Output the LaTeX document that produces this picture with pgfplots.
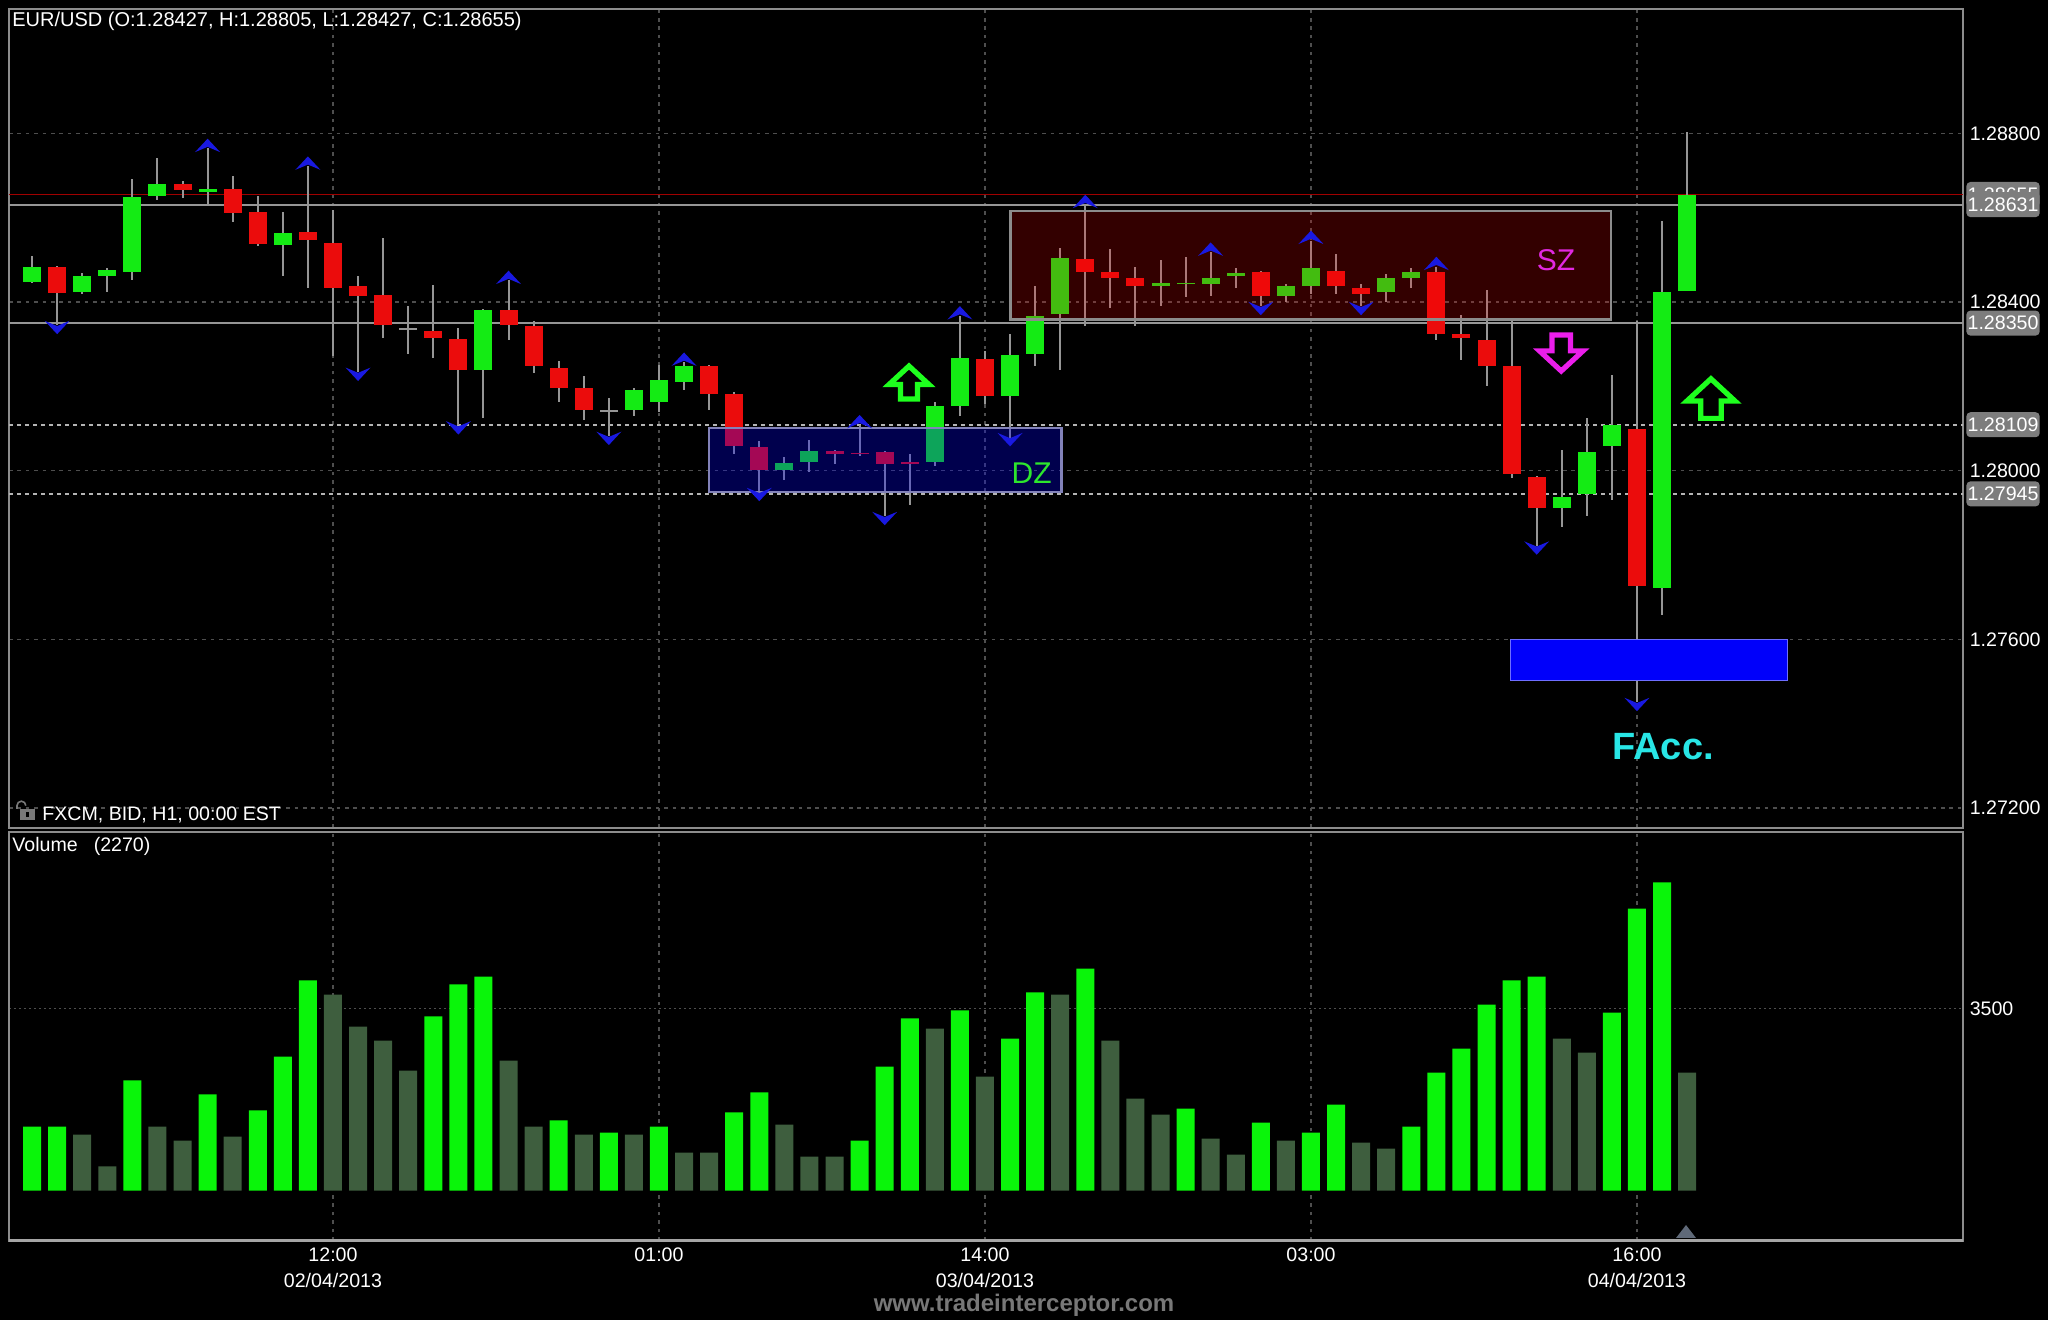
\documentclass[border=0pt]{standalone}
\usepackage{fontspec}
\setmainfont{Liberation Sans}
\usepackage{pgfplots}
\usepackage{pgfplotstable}
\pgfplotsset{compat=1.18}

\definecolor{bullc}{RGB}{20,235,20}
\definecolor{bearc}{RGB}{235,12,12}
\definecolor{wickc}{RGB}{150,150,150}
\definecolor{chevc}{RGB}{25,25,225}
\definecolor{gridc}{RGB}{78,78,78}
\definecolor{framec}{RGB}{140,140,140}
\definecolor{redline}{RGB}{160,0,0}
\definecolor{grayline}{RGB}{150,150,150}
\definecolor{dashline}{RGB}{180,180,180}
\definecolor{lblgray}{RGB}{125,125,125}
\definecolor{volg}{RGB}{10,245,10}
\definecolor{volgray}{RGB}{62,94,62}
\definecolor{arrg}{RGB}{30,255,30}
\definecolor{arrm}{RGB}{235,30,235}
\definecolor{szc}{RGB}{225,40,225}
\definecolor{dzc}{RGB}{45,230,45}
\definecolor{faccc}{RGB}{40,230,230}
\definecolor{facbox}{RGB}{0,0,250}

\newcommand\fs{\fontsize{9.8}{13}\selectfont}
\newcommand\arrowpath{(0pt,8.25pt) -- (10pt,-1pt) -- (4.25pt,-1pt) -- (4.25pt,-8.25pt) -- (-4.25pt,-8.25pt) -- (-4.25pt,-1pt) -- (-10pt,-1pt) -- cycle}

\pgfdeclareplotmark{fup}{%
  \pgfpathmoveto{\pgfqpoint{-6.25pt}{-2pt}}%
  \pgfpathlineto{\pgfqpoint{0pt}{4.7pt}}%
  \pgfpathlineto{\pgfqpoint{6.25pt}{-2pt}}%
  \pgfpathlineto{\pgfqpoint{0pt}{0.6pt}}%
  \pgfpathclose
  \pgfusepathqfill}
\pgfdeclareplotmark{fdn}{%
  \pgfpathmoveto{\pgfqpoint{-6.25pt}{2pt}}%
  \pgfpathlineto{\pgfqpoint{0pt}{-4.7pt}}%
  \pgfpathlineto{\pgfqpoint{6.25pt}{2pt}}%
  \pgfpathlineto{\pgfqpoint{0pt}{-0.6pt}}%
  \pgfpathclose
  \pgfusepathqfill}

% bullish candles
\pgfplotstableread{
i o h l c
-12 1.28448 1.28509 1.28446 1.28485
-10 1.28424 1.28470 1.28420 1.28462
-9 1.28462 1.28481 1.28424 1.28476
-8 1.28472 1.28693 1.28453 1.28650
-7 1.28652 1.28742 1.28643 1.28680
-5 1.28662 1.28765 1.28633 1.28670
-2 1.28538 1.28613 1.28462 1.28566
6 1.28240 1.28385 1.28126 1.28381
12 1.28145 1.28196 1.28130 1.28191
13 1.28164 1.28252 1.28140 1.28215
14 1.28211 1.28258 1.28192 1.28248
18 1.28002 1.28034 1.27979 1.28020
19 1.28021 1.28072 1.27998 1.28048
24 1.28021 1.28162 1.28012 1.28153
25 1.28154 1.28368 1.28130 1.28267
27 1.28178 1.28325 1.28080 1.28276
28 1.28277 1.28438 1.28249 1.28367
29 1.28372 1.28528 1.28240 1.28504
33 1.28439 1.28500 1.28391 1.28447
34 1.28443 1.28509 1.28415 1.28447
35 1.28443 1.28519 1.28415 1.28457
36 1.28462 1.28481 1.28434 1.28471
38 1.28415 1.28443 1.28401 1.28438
39 1.28439 1.28547 1.28420 1.28481
42 1.28424 1.28466 1.28401 1.28457
43 1.28458 1.28481 1.28434 1.28471
49 1.27912 1.28049 1.27866 1.27939
50 1.27945 1.28125 1.27894 1.28044
51 1.28060 1.28229 1.27931 1.28110
53 1.27723 1.28594 1.27658 1.28424
54 1.28427 1.28805 1.28427 1.28655
}\bulltab

% bearish candles
\pgfplotstableread{
i o h l c
-11 1.28485 1.28487 1.28346 1.28424
-6 1.28680 1.28689 1.28647 1.28666
-4 1.28670 1.28698 1.28590 1.28614
-3 1.28613 1.28651 1.28534 1.28538
-1 1.28566 1.28723 1.28434 1.28548
0 1.28542 1.28618 1.28273 1.28434
1 1.28438 1.28462 1.28235 1.28415
2 1.28419 1.28552 1.28315 1.28346
4 1.28333 1.28442 1.28268 1.28315
5 1.28314 1.28338 1.28108 1.28240
7 1.28381 1.28452 1.28311 1.28346
8 1.28343 1.28356 1.28231 1.28249
9 1.28243 1.28262 1.28164 1.28197
10 1.28195 1.28224 1.28121 1.28145
15 1.28248 1.28250 1.28145 1.28183
16 1.28182 1.28186 1.28040 1.28059
17 1.28058 1.28072 1.27950 1.28002
20 1.28048 1.28050 1.28017 1.28040
21 1.28044 1.28110 1.28036 1.28040
22 1.28044 1.28046 1.27893 1.28017
23 1.28020 1.28040 1.27917 1.28017
26 1.28267 1.28286 1.28159 1.28178
30 1.28504 1.28632 1.28344 1.28472
31 1.28471 1.28528 1.28387 1.28458
32 1.28457 1.28485 1.28344 1.28439
37 1.28471 1.28473 1.28391 1.28415
40 1.28476 1.28514 1.28420 1.28439
41 1.28433 1.28443 1.28391 1.28420
44 1.28471 1.28485 1.28311 1.28325
45 1.28325 1.28371 1.28263 1.28315
46 1.28310 1.28429 1.28202 1.28249
47 1.28248 1.28357 1.27983 1.27993
48 1.27986 1.27988 1.27823 1.27912
52 1.28101 1.28356 1.27452 1.27727
}\beartab

% doji candles
\pgfplotstableread{
i o h l c
3 1.28336 1.28390 1.28277 1.28336
11 1.28142 1.28172 1.28083 1.28142
}\dojitab

% fractal highs / lows
\pgfplotstableread{
i p
-5 1.28765
-1 1.28723
7 1.28452
14 1.28258
21 1.28110
25 1.28368
30 1.28632
35 1.28519
39 1.28547
44 1.28485
}\fracup
\pgfplotstableread{
i p
-11 1.28346
1 1.28235
5 1.28108
11 1.28083
17 1.27950
22 1.27893
27 1.28080
37 1.28391
41 1.28391
48 1.27823
52 1.27452
}\fracdn

% volume (rising / falling)
\pgfplotstableread{
i v
-12 1231
-11 1231
-8 2122
-5 1852
-3 1545
-2 2577
-1 4045
4 3352
5 3968
6 4115
9 1353
11 1115
13 1231
16 1506
17 1891
21 962
22 2385
23 3314
25 3468
27 2923
28 3814
30 4269
34 1577
37 1308
39 1115
40 1654
43 1231
44 2269
45 2731
46 3577
47 4045
48 4115
51 3423
52 5423
53 5929
}\volup
\pgfplotstableread{
i v
-10 1077
-9 468
-7 1231
-6 962
-4 1038
0 3769
1 3154
2 2885
3 2308
7 2500
8 1231
10 1077
12 1077
14 731
15 731
18 1269
19 654
20 654
24 3115
26 2192
29 3769
31 2885
32 1769
33 1461
35 1000
36 692
38 962
41 923
42 808
49 2923
50 2654
54 2270
}\voldn

\begin{document}
\begin{tikzpicture}[x=1pt,y=1pt]
\path[use as bounding box, fill=black] (0,0) rectangle (1024,660);

% ================= PRICE PANEL =================
\begin{axis}[
  at={(4.5pt,246pt)}, anchor=south west, scale only axis,
  width=976.85pt, height=409.65pt,
  xmin=-12.92, xmax=64.99, ymin=1.271527, ymax=1.290956,
  clip=false,
  axis line style={draw=framec, line width=1pt},
  xtick={0,13,26,39,52}, xticklabels={},
  ytick={1.272,1.276,1.28,1.284,1.288},
  yticklabels={1.27200,1.27600,1.28000,1.28400,1.28800},
  yticklabel pos=right,
  yticklabel style={text=white, font=\fs, anchor=west, xshift=0pt},
  /pgf/number format/assume math mode=true,
  major tick length=0pt,
  grid=major,
  x grid style={draw=gridc, line width=0.7pt, dash pattern=on 1.8pt off 2.4pt},
  y grid style={draw=gridc, line width=0.7pt, dash pattern=on 1.8pt off 2.4pt},
]
% reference lines
\addplot[redline, line width=0.9pt] coordinates {(-12.92,1.28655) (64.99,1.28655)};
\addplot[grayline, line width=1pt] coordinates {(-12.92,1.28631) (64.99,1.28631)};
\addplot[grayline, line width=1pt] coordinates {(-12.92,1.28350) (64.99,1.28350)};
\addplot[dashline, line width=1.1pt, dash pattern=on 2pt off 2pt] coordinates {(-12.92,1.28109) (64.99,1.28109)};
\addplot[dashline, line width=1.1pt, dash pattern=on 2pt off 2pt] coordinates {(-12.92,1.27945) (64.99,1.27945)};

% wicks
\addplot[draw=none, mark=none, error bars/.cd, y dir=both, y explicit, error mark=none,
  error bar style={draw=wickc, line width=1pt}]
  table[x=i, y expr={(\thisrow{h}+\thisrow{l})/2}, y error expr={(\thisrow{h}-\thisrow{l})/2}] {\bulltab};
\addplot[draw=none, mark=none, error bars/.cd, y dir=both, y explicit, error mark=none,
  error bar style={draw=wickc, line width=1pt}]
  table[x=i, y expr={(\thisrow{h}+\thisrow{l})/2}, y error expr={(\thisrow{h}-\thisrow{l})/2}] {\beartab};
\addplot[draw=none, mark=none, error bars/.cd, y dir=both, y explicit, error mark=none,
  error bar style={draw=wickc, line width=1pt}]
  table[x=i, y expr={(\thisrow{h}+\thisrow{l})/2}, y error expr={(\thisrow{h}-\thisrow{l})/2}] {\dojitab};
% bodies
\addplot[draw=none, mark=none, error bars/.cd, y dir=both, y explicit, error mark=none,
  error bar style={draw=bullc, line width=9pt}]
  table[x=i, y expr={(\thisrow{o}+\thisrow{c})/2}, y error expr={abs(\thisrow{c}-\thisrow{o})/2}] {\bulltab};
\addplot[draw=none, mark=none, error bars/.cd, y dir=both, y explicit, error mark=none,
  error bar style={draw=bearc, line width=9pt}]
  table[x=i, y expr={(\thisrow{o}+\thisrow{c})/2}, y error expr={abs(\thisrow{c}-\thisrow{o})/2}] {\beartab};
\addplot[only marks, mark=-, mark size=4.5pt, mark options={draw=wickc, line width=1pt}]
  table[x=i, y=o] {\dojitab};

% fractals
\addplot[only marks, mark=fup, mark options={fill=chevc, draw=none}]
  table[x=i, y=p] {\fracup};
\addplot[only marks, mark=fdn, mark options={fill=chevc, draw=none}]
  table[x=i, y=p] {\fracdn};

% zones
\fill[red, opacity=0.2] (axis cs:27.02,1.28359) rectangle (axis cs:50.97,1.28616);
\draw[framec, line width=1.3pt] (axis cs:27.02,1.28359) rectangle (axis cs:50.97,1.28616);
\fill[blue, opacity=0.3] (axis cs:14.99,1.27949) rectangle (axis cs:29.05,1.28101);
\draw[color={rgb,255:red,130;green,130;blue,185}, line width=1.1pt] (axis cs:14.99,1.27949) rectangle (axis cs:29.05,1.28101);
\fill[facbox, draw={rgb,255:red,110;green,110;blue,255}, line width=0.5pt] (axis cs:46.94,1.27503) rectangle (axis cs:58.0,1.27600);

% arrows
\draw[arrg, line width=2.6pt, line join=miter, shift={(axis cs:22.97,1.28209)}] \arrowpath;
\draw[arrg, line width=2.6pt, line join=miter, shift={(axis cs:54.95,1.28171)}, scale=1.2] \arrowpath;
\draw[arrm, line width=2.6pt, line join=miter, shift={(axis cs:48.98,1.28279)}, scale=1.09, rotate=180] \arrowpath;

% zone texts
\node[text=szc, font=\fontsize{15}{15}\selectfont] at (axis cs:48.77,1.28499) {SZ};
\node[text=dzc, font=\fontsize{15}{15}\selectfont] at (axis cs:27.86,1.27995) {DZ};
\node[text=faccc, font=\fontsize{19}{19}\selectfont\bfseries] at (axis cs:53.04,1.27346) {FAcc.};

% price labels on the right
\node[fill=lblgray, rounded corners=2pt, text=white, font=\fs, inner xsep=0.6pt, inner ysep=0pt, minimum height=12.5pt, anchor=west, xshift=1.65pt] at (axis cs:64.99,1.28655) {1.28655};
\node[fill=lblgray, rounded corners=2pt, text=white, font=\fs, inner xsep=0.6pt, inner ysep=0pt, minimum height=12.5pt, anchor=west, xshift=1.65pt] at (axis cs:64.99,1.28631) {1.28631};
\node[fill=lblgray, rounded corners=2pt, text=white, font=\fs, inner xsep=0.6pt, inner ysep=0pt, minimum height=12.5pt, anchor=west, xshift=1.65pt] at (axis cs:64.99,1.28350) {1.28350};
\node[fill=lblgray, rounded corners=2pt, text=white, font=\fs, inner xsep=0.6pt, inner ysep=0pt, minimum height=12.5pt, anchor=west, xshift=1.65pt] at (axis cs:64.99,1.28109) {1.28109};
\node[fill=lblgray, rounded corners=2pt, text=white, font=\fs, inner xsep=0.6pt, inner ysep=0pt, minimum height=12.5pt, anchor=west, xshift=1.65pt] at (axis cs:64.99,1.27945) {1.27945};
\end{axis}

% ================= VOLUME PANEL =================
\begin{axis}[
  at={(4.5pt,39.65pt)}, anchor=south west, scale only axis,
  width=976.85pt, height=204.35pt,
  xmin=-12.92, xmax=64.99, ymin=-961.5, ymax=6898,
  axis line style={draw=framec, line width=1pt},
  xtick={0,13,26,39,52},
  xticklabels={{12:00\\02/04/2013},{01:00},{14:00\\03/04/2013},{03:00},{16:00\\04/04/2013}},
  xticklabel style={text=white, font=\fs, align=center},
  ytick={3500}, yticklabels={3500},
  yticklabel pos=right,
  yticklabel style={text=white, font=\fs, anchor=west},
  /pgf/number format/assume math mode=true,
  major tick length=0pt,
  grid=major,
  x grid style={draw=gridc, line width=0.7pt, dash pattern=on 1.8pt off 2.4pt},
  y grid style={draw=gridc, line width=0.8pt, dash pattern=on 1pt off 1.5pt},
]
\addplot[ybar, bar width=9pt, bar shift=0pt, fill=volg, draw=none] table[x=i, y=v] {\volup};
\addplot[ybar, bar width=9pt, bar shift=0pt, fill=volgray, draw=none] table[x=i, y=v] {\voldn};
\end{axis}
\draw[color={rgb,255:red,165;green,165;blue,165}, line width=1.5pt] (4.5,39.65) -- (981.35,39.65);

% ================= TEXTS =================
\node[anchor=west, text=white, font=\fontsize{10}{12}\selectfont, inner sep=0pt] at (6,649.25) {EUR/USD (O:1.28427, H:1.28805, L:1.28427, C:1.28655)};
\node[anchor=west, text=white, font=\fs, inner sep=0pt] at (21,252.5) {FXCM, BID, H1, 00:00 EST};
\node[anchor=west, text=white, font=\fs, inner sep=0pt] at (6,237) {Volume\hspace{8pt}(2270)};
% lock icon
\fill[color={rgb,255:red,120;green,120;blue,120}] (10,250) rectangle (17.5,255.5);
\fill[black] (13.2,251.5) rectangle (14.3,254);
\draw[color={rgb,255:red,120;green,120;blue,120}, line width=0.8pt] (8.5,255.5) -- (8.5,257.2) arc[start angle=180, end angle=0, radius=2.2];
% current bar marker
\fill[color={rgb,255:red,95;green,105;blue,120}] (843,47.5) -- (838,41) -- (848,41) -- cycle;
% watermark
\node[text={rgb,255:red,120;green,120;blue,120}, font=\fontsize{12}{12}\selectfont\bfseries] at (512,7.5) {www.tradeinterceptor.com};
\end{tikzpicture}
\end{document}
